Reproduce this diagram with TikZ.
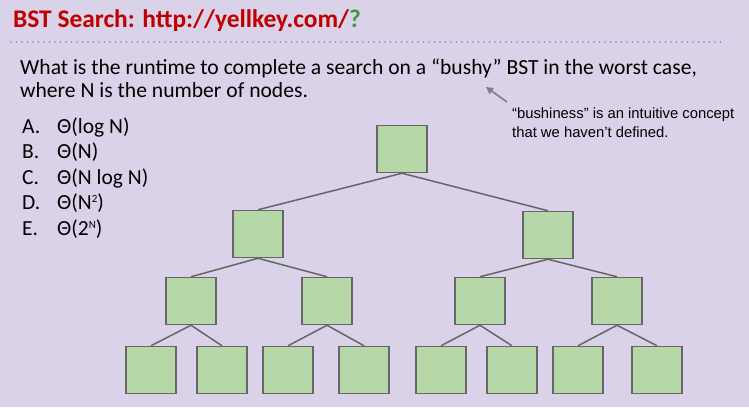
\documentclass[tikz,border=0pt]{standalone}
\usepackage{fontspec}
\setmainfont{Carlito}
\newfontfamily\notefont{Liberation Sans}
\usetikzlibrary{arrows.meta}
\definecolor{slidebg}{HTML}{D9D2E9}
\definecolor{titlered}{HTML}{C00000}
\definecolor{qgreen}{HTML}{389A38}
\definecolor{boxgreen}{HTML}{B6D7A8}
\definecolor{boxline}{HTML}{666666}
\definecolor{dotblue}{HTML}{6F8DBF}
\newcommand{\sq}[1]{\raisebox{0.6ex}{\fontsize{11}{11}\selectfont #1}}
\begin{document}
\begin{tikzpicture}[x=1pt, y=-1pt,
    bstnode/.style={draw=boxline, fill=boxgreen, line width=1.5pt, minimum width=50pt, minimum height=47pt, inner sep=0pt},
    bstedge/.style={draw=boxline, line width=1.5pt},
    slidetext/.style={anchor=base west, inner sep=0pt, font=\fontsize{21.6}{24}\selectfont},
    choice/.style={anchor=base west, inner sep=0pt, font=\fontsize{21.5}{25}\selectfont},
    notetext/.style={anchor=base west, inner sep=0pt, font=\notefont\fontsize{14.8}{19}\selectfont}]
    \fill[slidebg] (0,0) rectangle (749,407);
    \useasboundingbox (0,0) rectangle (749,407);

    % title and rule
    \node[anchor=base west, inner sep=0pt, font=\fontsize{25.4}{28}\selectfont\bfseries, text=titlered] (title) at (13,27) {BST Search: http://yellkey.com/\textcolor{qgreen}{?}};
    \coordinate (ruleL) at (11,42);
    \coordinate (ruleR) at (723,42);
    \draw[dotblue, line width=1.6pt, line cap=round, dash pattern=on 0pt off 5.5pt] (ruleL) -- (ruleR);

    % question
    \node[slidetext] (q1) at (20,74) {What is the runtime to complete a search on a “bushy” BST in the worst case,};
    \node[slidetext] (q2) at (20,97) {where N is the number of nodes.};

    % choices
    \foreach \lbl/\ans/\yy in {A./{Θ(log N)}/133, B./{Θ(N)}/158, C./{Θ(N log N)}/184, D./{Θ(N\sq{2})}/209, E./{Θ(2\sq{N})}/235} {
        \node[choice] (lbl\yy) at (22,\yy) {\lbl};
        \node[choice] (ans\yy) at (57,\yy) {\ans};
    }

    % side note
    \node[notetext] (note1) at (512,118) {“bushiness” is an intuitive concept};
    \node[notetext] (note2) at (512,137) {that we haven’t defined.};
    \coordinate (tail) at (507,102);
    \coordinate (tip) at (486,87);
    \draw[gray, line width=1.6pt, -{Triangle[length=7pt, width=7pt]}] (tail) -- (tip);

    % tree
    \node[bstnode] (r) at (402,149) {};
    \node[bstnode] (a) at (258,234) {};
    \node[bstnode] (b) at (548,235) {};
    \node[bstnode] (aa) at (191,301) {};
    \node[bstnode] (ab) at (327,301) {};
    \node[bstnode] (ba) at (480,301) {};
    \node[bstnode] (bb) at (617,301) {};
    \node[bstnode] (aaa) at (151,370) {};
    \node[bstnode] (aab) at (222,370) {};
    \node[bstnode] (aba) at (288,370) {};
    \node[bstnode] (abb) at (364,370) {};
    \node[bstnode] (baa) at (441,370) {};
    \node[bstnode] (bab) at (512,370) {};
    \node[bstnode] (bba) at (578,370) {};
    \node[bstnode] (bbb) at (657,370) {};

    \foreach \p/\c in {r/a, r/b, a/aa, a/ab, b/ba, b/bb, aa/aaa, aa/aab, ab/aba, ab/abb, ba/baa, ba/bab, bb/bba, bb/bbb}
        \draw[bstedge] (\p.south) -- (\c.north);
\end{tikzpicture}
\end{document}
